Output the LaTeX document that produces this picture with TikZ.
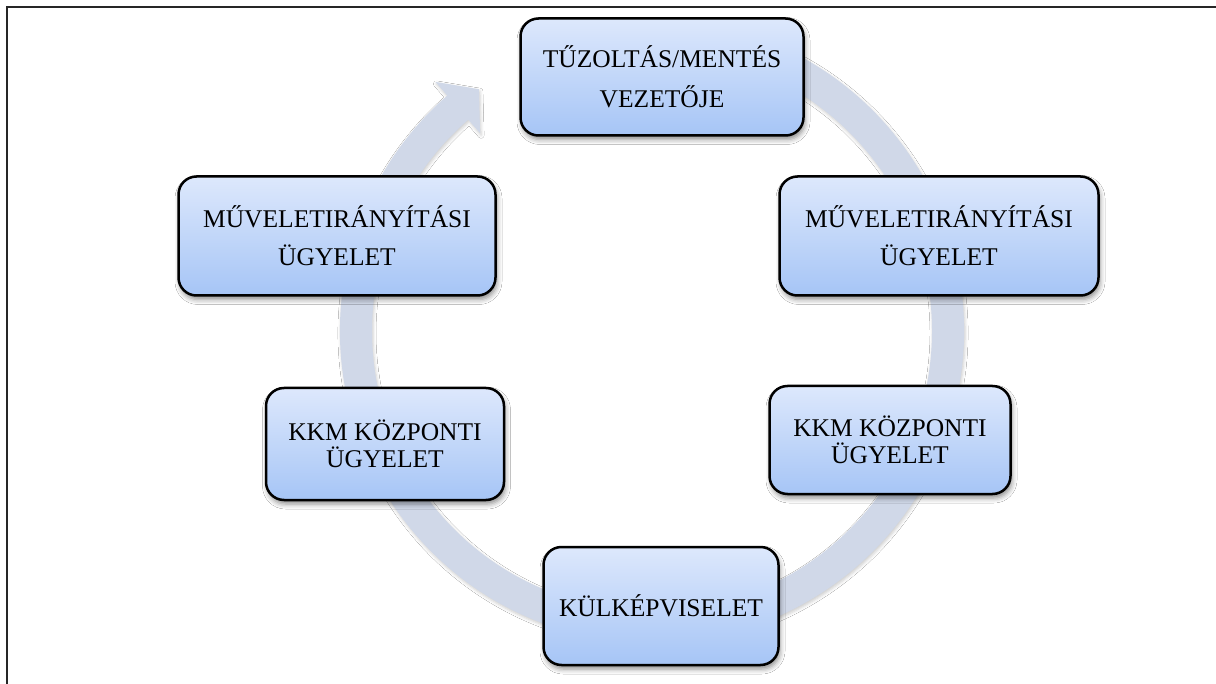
\documentclass[tikz,border=0pt]{standalone}
\usepackage{fontspec}
\setmainfont{Liberation Serif}
\usetikzlibrary{shadows.blur}
\definecolor{ringc}{RGB}{208,216,232}
\definecolor{boxtop}{RGB}{221,232,252}
\definecolor{boxbot}{RGB}{166,197,246}
\begin{document}
\begin{tikzpicture}[x=1pt,y=-1pt,
  stepbox/.style={draw=black, line width=2.5pt, rounded corners=18pt,
    top color=boxtop, bottom color=boxbot, align=center, inner sep=0pt,
    text=black,
    blur shadow={shadow xshift=1.5pt, shadow yshift=-4pt, shadow blur radius=5pt, shadow opacity=45}},
  bigtxt/.style={font=\fontsize{25.5}{40}\selectfont},
  midtxt/.style={font=\fontsize{25.5}{38}\selectfont},
  smalltxt/.style={font=\fontsize{25.5}{27}\selectfont},
  ]
\useasboundingbox (0,0) rectangle (1216,684);
\fill[white] (0,0) rectangle (1216,684);
% frame
\draw[line width=2pt, black!85] (1216,7) -- (7,7) -- (7,684);
% circular arrow
\fill[ringc, blur shadow={shadow xshift=1pt, shadow yshift=-2pt, shadow blur radius=3pt, shadow opacity=20}]
  ([shift={(652,331)}]-75:312) arc[start angle=-75, end angle=229, radius=312]
  -- ([shift={(652,331)}]229:330) -- (478.9,89.2) -- ([shift={(652,331)}]229:262)
  -- ([shift={(652,331)}]229:280) arc[start angle=229, end angle=-75, radius=280] -- cycle;
% nodes
\node[stepbox, bigtxt, minimum width=283pt, minimum height=117pt] (top) at (662,77) {TŰZOLTÁS/MENTÉS\\VEZETŐJE};
\node[stepbox, midtxt, minimum width=319pt, minimum height=119pt] (ru) at (939,236) {MŰVELETIRÁNYÍTÁSI\\ÜGYELET};
\node[stepbox, smalltxt, minimum width=241pt, minimum height=108pt] (rl) at (890,440) {KKM KÖZPONTI\\ÜGYELET};
\node[stepbox, bigtxt, minimum width=235pt, minimum height=118pt] (bot) at (661,606) {KÜLKÉPVISELET};
\node[stepbox, smalltxt, minimum width=238pt, minimum height=112pt] (ll) at (385,444) {KKM KÖZPONTI\\ÜGYELET};
\node[stepbox, midtxt, minimum width=317pt, minimum height=119pt] (lu) at (337,236) {MŰVELETIRÁNYÍTÁSI\\ÜGYELET};
\end{tikzpicture}
\end{document}
